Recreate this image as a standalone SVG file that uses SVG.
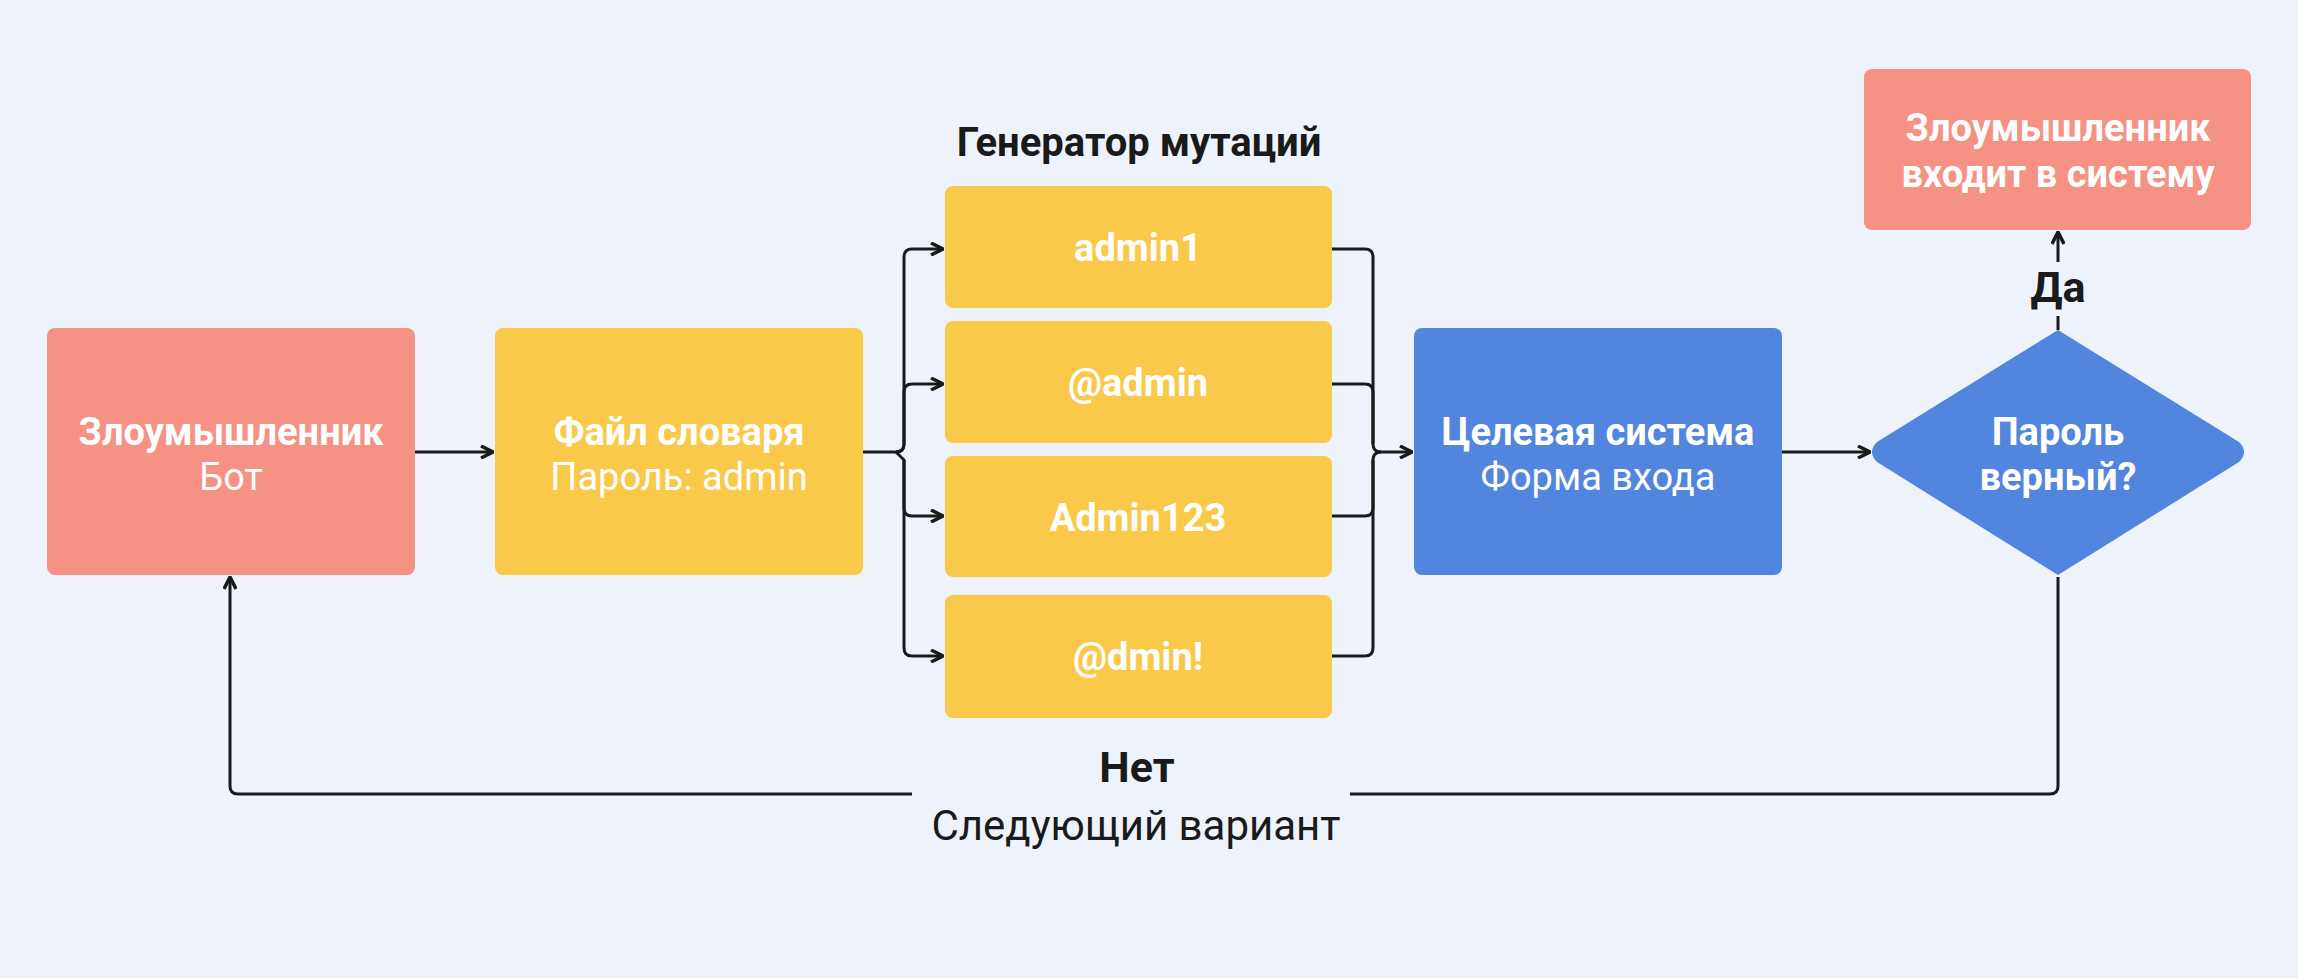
<svg xmlns="http://www.w3.org/2000/svg" width="2298" height="978" viewBox="0 0 2298 978">
<defs>
<style>
.t{font-family:Roboto,"Noto Sans",sans-serif;fill:#fff;text-anchor:middle;font-size:38px}
.b{font-weight:700}
.d{fill:#1a1a1a;text-anchor:middle;font-family:Roboto,"Noto Sans",sans-serif}
.c{fill:none;stroke:#1a1a1a;stroke-width:3;stroke-linejoin:round}
</style>
<marker id="a" viewBox="0 0 14 14" refX="13" refY="7" markerWidth="14" markerHeight="14" markerUnits="userSpaceOnUse" orient="auto"><path d="M1 1 L13 7 L1 13" fill="none" stroke="#1a1a1a" stroke-width="3.5"/></marker>
</defs>
<rect width="2298" height="978" fill="#EEF3FB"/>
<g id="connectors">
<path class="c" d="M415 452 H493" marker-end="url(#a)"/>
<path class="c" d="M863 452 H896 Q904 452 904 444 V257 Q904 249 912 249 H943" marker-end="url(#a)"/>
<path class="c" d="M896 452 Q904 452 904 444 V392 Q904 384 912 384 H943" marker-end="url(#a)"/>
<path class="c" d="M896 452 Q904 460 904 460 V508 Q904 516 912 516 H943" marker-end="url(#a)"/>
<path class="c" d="M904 460 V648 Q904 656 912 656 H943" marker-end="url(#a)"/>
<path class="c" d="M1332 249 H1365 Q1373 249 1373 257 V444 Q1373 452 1381 452 H1412" marker-end="url(#a)"/>
<path class="c" d="M1332 384 H1365 Q1373 384 1373 392 V444"/>
<path class="c" d="M1332 516 H1365 Q1373 516 1373 508 V460 Q1373 452 1381 452"/>
<path class="c" d="M1332 656 H1365 Q1373 656 1373 648 V460"/>
<path class="c" d="M1782 452 H1870" marker-end="url(#a)"/>
<path class="c" d="M2058 330 V316"/>
<path class="c" d="M2058 262 V232" marker-end="url(#a)"/>
<path class="c" d="M2058 577 V786 Q2058 794 2050 794 H1350"/>
<path class="c" d="M912 794 H238 Q230 794 230 786 V577" marker-end="url(#a)"/>
<text class="d b" x="1137" y="782" font-size="43">Нет</text>
<text class="d" x="1136" y="840" font-size="42">Следующий вариант</text>
<text class="d b" x="2058" y="302" font-size="43">Да</text>
</g>
<g id="n1"><rect x="47" y="328" width="368" height="247" rx="8" fill="#F59283"/><text class="t b" x="231" y="445">Злоумышленник</text><text class="t" x="231" y="490">Бот</text></g>
<g id="n2"><rect x="495" y="328" width="368" height="247" rx="8" fill="#FBC94A"/><text class="t b" x="679" y="445">Файл словаря</text><text class="t" x="679" y="490">Пароль: admin</text></g>
<text class="d b" x="1139" y="156" font-size="40">Генератор мутаций</text>
<g id="m1"><rect x="945" y="186" width="387" height="122" rx="8" fill="#FBC94A"/><text class="t b" x="1138" y="261">admin1</text></g>
<g id="m2"><rect x="945" y="321" width="387" height="122" rx="8" fill="#FBC94A"/><text class="t b" x="1138" y="396">@admin</text></g>
<g id="m3"><rect x="945" y="456" width="387" height="121" rx="8" fill="#FBC94A"/><text class="t b" x="1138" y="531">Admin123</text></g>
<g id="m4"><rect x="945" y="595" width="387" height="123" rx="8" fill="#FBC94A"/><text class="t b" x="1138" y="670">@dmin!</text></g>
<g id="n3"><rect x="1414" y="328" width="368" height="247" rx="8" fill="#5285DD"/><text class="t b" x="1598" y="445">Целевая система</text><text class="t" x="1598" y="490">Форма входа</text></g>
<g id="n4"><path d="M2058 330 L2239 442 Q2249 452 2239 462 L2058 575 L1877 462 Q1867 452 1877 442 Z" fill="#5285DD"/><text class="t b" x="2058" y="445">Пароль</text><text class="t b" x="2058" y="490">верный?</text></g>
<g id="n5"><rect x="1864" y="69" width="387" height="161" rx="8" fill="#F59283"/><text class="t b" x="2058" y="141">Злоумышленник</text><text class="t b" x="2058" y="187">входит в систему</text></g>
</svg>
